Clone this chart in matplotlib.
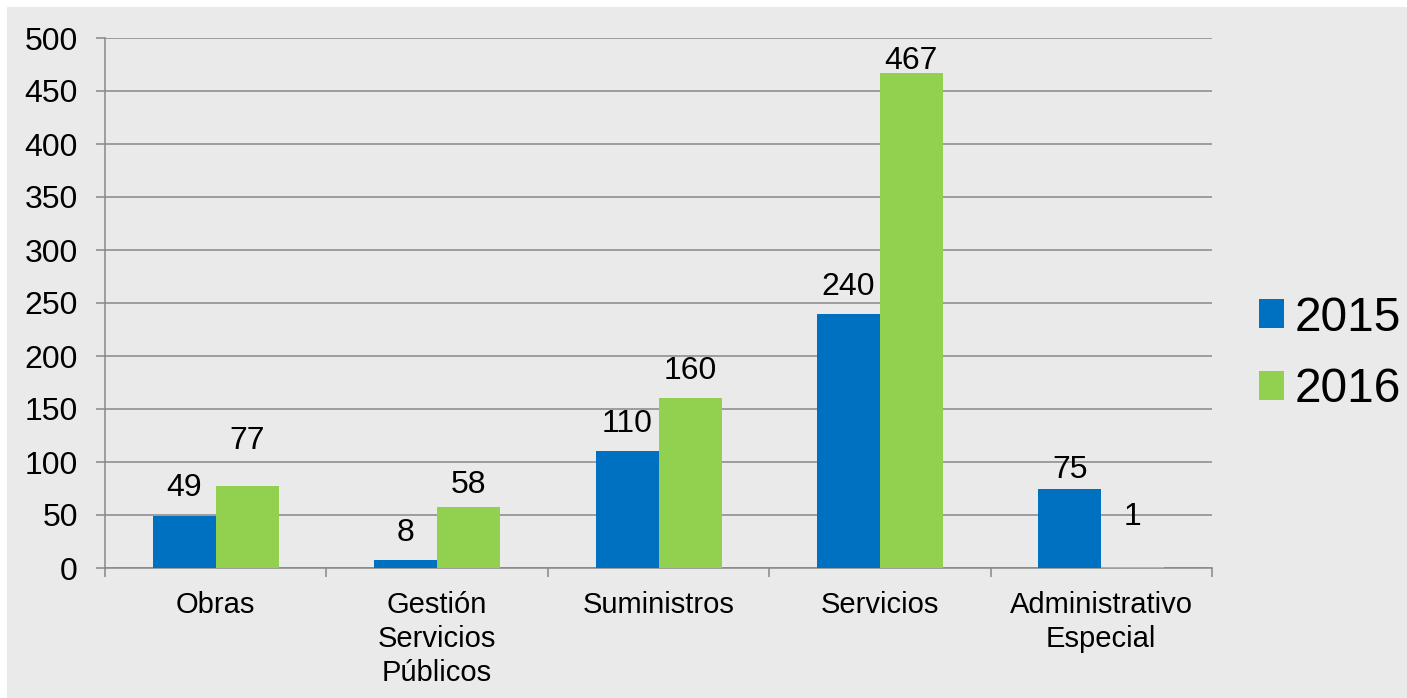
import matplotlib
matplotlib.use("Agg")
import matplotlib.pyplot as plt
from matplotlib.patches import Patch, Rectangle
import numpy as np

categories = ["Obras", "Gestión\nServicios\nPúblicos", "Suministros", "Servicios", "Administrativo\nEspecial"]
series_names = ["2015", "2016"]
values_2015 = [49, 8, 110, 240, 75]
values_2016 = [77, 58, 160, 467, 1]
yticks = [0, 50, 100, 150, 200, 250, 300, 350, 400, 450, 500]

# label gap above bar (pixels) – style only
gap_2015 = [20, 19, 19, 19, 10]
gap_2016 = [37, 14, 19, 4, 42]

plt.rcParams['font.family'] = ['Liberation Sans', 'DejaVu Sans']

W, H = 1407, 698
fig = plt.figure(figsize=(W / 100, H / 100), dpi=100)
fig.patch.set_facecolor("white")
bg = "#EAEAEA"
fig.patches.append(Rectangle((7 / W, 0), 1 - 7 / W, 1 - 7 / H, transform=fig.transFigure,
                             facecolor=bg, edgecolor="none", zorder=-10))

ax = fig.add_axes([105 / W, (H - 568) / H, (1212 - 105) / W, (568 - 38) / H])
ax.set_facecolor(bg)
ax.patch.set_alpha(0)

blue = "#0070C0"
green = "#92D050"
grid_c = "#888888"

x = np.arange(len(categories))
w = 63 / 221.4
b1 = ax.bar(x - w / 2, values_2015, w, color=blue, zorder=3)
b2 = ax.bar(x + w / 2, values_2016, w, color=green, zorder=3)

fs_num = 23
fs_cat = 21
for bars, vals, gaps in ((b1, values_2015, gap_2015), (b2, values_2016, gap_2016)):
    for r, v, g in zip(bars, vals, gaps):
        ax.annotate(str(v), (r.get_x() + r.get_width() / 2, v), xytext=(0, g * 0.72),
                    textcoords="offset points", ha="center", va="baseline", fontsize=fs_num,
                    color="black", zorder=4)

ax.set_ylim(0, 500)
ax.set_xlim(-0.5, len(categories) - 0.5)
ax.set_yticks(yticks)
ax.set_yticklabels([str(t) for t in yticks], fontsize=fs_num)
ax.yaxis.grid(True, color=grid_c, linewidth=1.1, zorder=0)
ax.set_axisbelow(True)

ax.set_xticks(x)
ax.set_xticklabels(categories, fontsize=fs_cat, linespacing=1.28)
ax.set_xticks(np.arange(-0.5, len(categories), 1.0), minor=True)
ax.tick_params(axis="x", which="major", length=0, pad=16.5)
ax.tick_params(axis="x", which="minor", length=6.5, width=1.1, color=grid_c, direction="out")
ax.tick_params(axis="y", length=6.5, width=1.1, color=grid_c, pad=13)

for s in ("top", "right"):
    ax.spines[s].set_visible(False)
for s in ("left", "bottom"):
    ax.spines[s].set_color(grid_c)
    ax.spines[s].set_linewidth(1.1)

handles = [Patch(facecolor=blue, edgecolor="none"), Patch(facecolor=green, edgecolor="none")]
fig.legend(handles, series_names, loc="center left", bbox_to_anchor=(1259 / W, 1 - 354 / H),
           frameon=False, fontsize=34.5, handlelength=0.53, handleheight=0.53,
           handletextpad=0.22, labelspacing=0.56, borderpad=0, borderaxespad=0)

fig.savefig("out.png", dpi=100, facecolor=fig.get_facecolor())
